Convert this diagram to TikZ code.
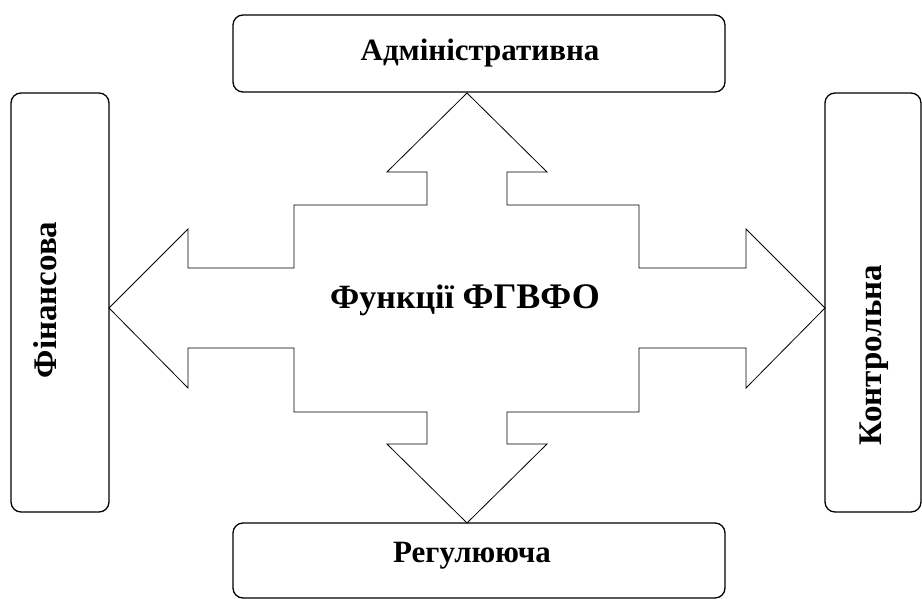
\documentclass[tikz,border=0pt]{standalone}
\usepackage{fontspec}
\setmainfont{Liberation Serif}
\tikzset{
 funcbox/.style={draw,line width=1.3pt,rounded corners=10pt,inner sep=0pt},
 funclabel/.style={font=\fontsize{31}{36}\selectfont\bfseries,inner sep=0pt}
}
\begin{document}
\begin{tikzpicture}[x=1pt,y=-1pt]
 \useasboundingbox (0,0) rectangle (922,599);
 % four boxes
 \node[funcbox,minimum width=492pt,minimum height=77pt] (adm) at (479,53.5) {};
 \node[funcbox,minimum width=492pt,minimum height=75pt] (reg) at (479,560.5) {};
 \node[funcbox,minimum width=98pt,minimum height=419pt] (fin) at (60,302.5) {};
 \node[funcbox,minimum width=96pt,minimum height=419pt] (kon) at (873,302.5) {};
 %
 \node[funclabel] (admtext) at (480,53) {Адміністративна};
 \node[funclabel] (regtext) at (472,556) {Регулююча};
 \node[funclabel,font=\fontsize{33}{38}\selectfont\bfseries,rotate=90] (fintext) at (45,300) {Фінансова};
 \node[funclabel,font=\fontsize{33}{38}\selectfont\bfseries,rotate=90] (kontext) at (874,355) {Контрольна};
 %
 \coordinate (c) at (467,308);
 \draw[line width=0.8pt] (c) ++(0,-215) -- ++(80,79) -- ++(-40,0) -- ++(0,33)
  -- ++(132,0) -- ++(0,63) -- ++(107,0) -- ++(0,-39) -- ++(79,79)
  -- ++(-79,80) -- ++(0,-40) -- ++(-107,0) -- ++(0,64) -- ++(-132,0)
  -- ++(0,32) -- ++(40,0) -- ++(-80,79) -- ++(-80,-79) -- ++(40,0)
  -- ++(0,-32) -- ++(-133,0) -- ++(0,-64) -- ++(-106,0) -- ++(0,40)
  -- ++(-79,-80) -- ++(79,-79) -- ++(0,39) -- ++(106,0) -- ++(0,-63)
  -- ++(133,0) -- ++(0,-33) -- ++(-40,0) -- cycle;
 %
 \node[font=\bfseries,inner sep=0pt,anchor=base] (cross) at (465,308)
  {\fontsize{34}{38}\selectfont Функції \fontsize{36}{40}\selectfont ФГВФО};
\end{tikzpicture}
\end{document}
